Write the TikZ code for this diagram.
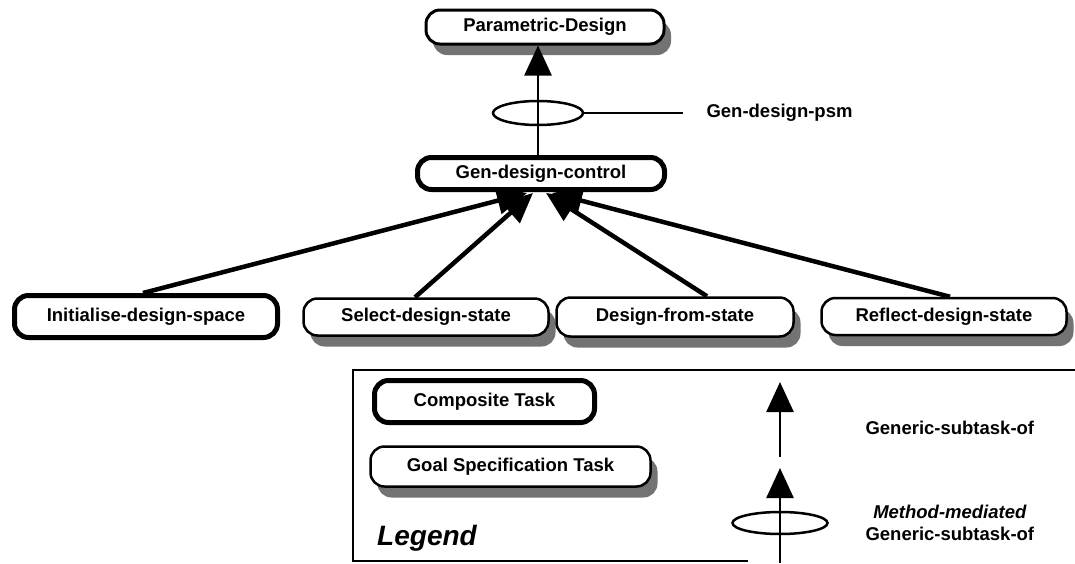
\documentclass[tikz,border=0pt]{standalone}
\usepackage{fontspec}
\setmainfont{Liberation Sans}
\usetikzlibrary{arrows.meta,shadows,shapes.geometric,calc}
\begin{document}
\begin{tikzpicture}[x=1pt,y=-1pt,
  lbl/.style={font=\fontsize{18.5}{22}\selectfont\bfseries},
  goal/.style={lbl, draw, line width=2.5pt, rounded corners=14pt, fill=white, inner sep=0pt,
    drop shadow={shadow xshift=7pt, shadow yshift=-11pt, fill=black!55, opacity=1}},
  composite/.style={lbl, draw, line width=5pt, rounded corners=14pt, fill=white, inner sep=0pt},
  link/.style={line width=4.5pt, -{Triangle[length=30pt,width=27pt]}},
  thinlink/.style={line width=2.5pt, -{Triangle[length=30pt,width=27pt]}},
  ring/.style={draw, ellipse, line width=2.5pt, inner sep=0pt},
  frame/.style={line width=2pt}
]
\useasboundingbox (0,0) rectangle (1075,563);

% task hierarchy
\node[goal, line width=3pt, minimum width=238pt, minimum height=34pt] (pd) at (545,27) {Parametric-Design};
\node[composite, minimum width=247pt, minimum height=32pt] (gdc) at (541,173.5) {Gen-design-control};

\node[composite, minimum width=263pt, minimum height=42pt] (ids) at (146,316.5) {Initialise-design-space};
\node[goal, minimum width=245pt, minimum height=37pt] (sds) at (426,317) {Select-design-state};
\node[goal, minimum width=237pt, minimum height=39pt] (dfs) at (675,317) {Design-from-state};
\node[goal, minimum width=245pt, minimum height=37pt] (rds) at (944,316.5) {Reflect-design-state};

% method-mediated link to the top task
\node[ring, minimum width=90pt, minimum height=24pt] (psmring) at (538,113) {};
\draw[thinlink] (gdc.north -| psmring) -- (pd.south -| psmring);
\coordinate (psmend) at (683,113);
\draw[line width=2.5pt] (psmring.east) -- (psmend);
\node[lbl, anchor=west] (psm) at (703,113) {Gen-design-psm};

% generic subtask links
\draw[link] ($(ids.north)+(-3,0)$) -- ($(gdc.south)+(-14,1)$);
\draw[link] ($(sds.north)+(-11,0)$) -- ($(gdc.south)+(-8,1)$);
\draw[link] ($(dfs.north)+(32,0)$) -- ($(gdc.south)+(5,1)$);
\draw[link] ($(rds.north)+(6,0)$) -- ($(gdc.south)+(11,1)$);

% legend
\draw[frame] (748,561) -- (353,561) -- (353,370) -- (1075,370);
\node[composite, minimum width=220pt, minimum height=42pt] (lcomp) at (484.5,401.5) {Composite Task};
\node[goal, minimum width=280pt, minimum height=40pt] (lgoal) at (510.5,466.5) {Goal Specification Task};
\node[font=\fontsize{28}{32}\selectfont\bfseries\itshape] (ltitle) at (427,538) {Legend};

\coordinate (gtail) at (780,457);
\coordinate (ghead) at (780,382);
\draw[thinlink] (gtail) -- (ghead);
\node[lbl, anchor=west] (gtext) at (862,428) {Generic-subtask-of};

\coordinate (mtail) at (780,563);
\coordinate (mhead) at (780,468);
\node[ring, minimum width=95pt, minimum height=22pt] (mring) at (780,523) {};
\draw[thinlink] (mtail) -- (mhead);
\node[lbl, align=center, anchor=west] (mtext) at (862,523) {\itshape Method-mediated\\Generic-subtask-of};
\end{tikzpicture}
\end{document}
